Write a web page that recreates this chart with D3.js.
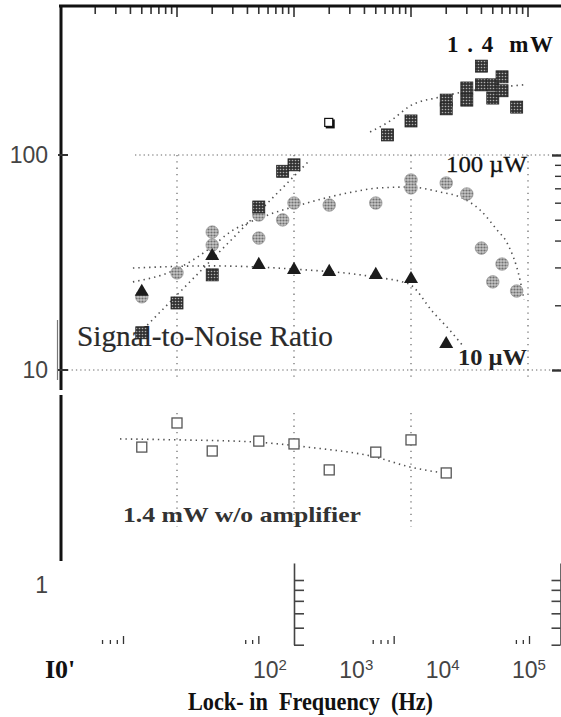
<!DOCTYPE html>
<html>
<head>
<meta charset="utf-8">
<script src="https://cdn.jsdelivr.net/npm/d3@7/dist/d3.min.js"></script>
<style>
  body { margin: 0; background: #fff; }
  svg { display: block; }
</style>
</head>
<body>
<div id="chart"></div>
<script>
// values: lock-in frequency (Hz) vs signal-to-noise ratio
var mw14Freq = [50, 100, 200, 500, 800, 1000, 6300, 10000, 20000, 20000, 30000, 30000, 40000, 40000, 50000, 50000, 60000, 60000, 80000];
var mw14Snr  = [14.9, 20.5, 27.7, 57.3, 84, 90, 124, 144, 180, 164, 205, 180, 259, 212, 212, 184, 231, 199, 167];

var uw100Freq = [50, 100, 200, 200, 500, 500, 800, 1000, 2000, 5000, 10000, 10000, 20000, 30000, 40000, 60000, 50000, 80000];
var uw100Snr  = [21.9, 28.3, 43.8, 38.1, 52.6, 41.1, 49.9, 59.8, 58.5, 59.8, 76.5, 70.3, 74.1, 65.9, 36.9, 31.1, 25.7, 23.3];

var uw10Freq = [50, 200, 500, 1000, 2000, 5000, 10000, 20000];
var uw10Snr  = [23.1, 33.9, 30.8, 29.2, 28.6, 27.7, 26.5, 13.2];

var noAmpFreq = [50, 100, 200, 500, 1000, 2000, 5000, 10000, 20000];
var noAmpSnr  = [4.38, 5.67, 4.20, 4.67, 4.53, 3.43, 4.15, 4.73, 3.32];

// the lone hollow square
var oddFreq = [2000];
var oddSnr = [141];

// dotted guide curves [freq, snr]
var mw14FitA = [[48, 14.9], [1370, 94.8]];
var mw14FitB = [[4470, 128], [6890, 146], [9790, 169], [17700, 186], [31900, 199], [57700, 207], [92500, 212]];
var uw100Fit = [[42, 25.7], [96, 29.2], [192, 36.9], [284, 43.8], [512, 50.9], [1290, 59.8], [2840, 66.5], [5430, 70.3],
                [9790, 71], [17700, 67.3], [26200, 63.8], [38900, 55.5], [54400, 44.8], [66200, 39], [85500, 26.2], [92500, 21.2]];
var uw10Fit = [[42, 29.8], [192, 30.5], [962, 29.5], [4830, 27.1], [9620, 25.1], [15400, 18.6], [21500, 15.3], [27300, 13.1]];
var noAmpFit = [[32.6, 4.78], [106, 4.73], [447, 4.63], [1290, 4.38], [4920, 3.94], [9790, 3.54], [18800, 3.32]];

// axis ticks
var decades = [100, 1000, 10000, 100000];
var topMinor = [20, 30, 40, 50, 60, 70, 80, 90, 200, 300, 400, 500, 600, 700, 800, 900,
                2000, 3000, 4000, 5000, 6000, 7000, 8000, 9000, 20000, 30000, 40000, 50000, 60000, 70000, 80000, 90000];
var yLabels = [1, 10, 100];
var rightTicks = [10, 20, 30, 40, 50, 60, 70, 80, 90, 100];
var fragTicks = [0.5, 0.6, 0.7, 0.8, 0.9, 1];
var bottomMinor = [70, 80, 90, 800, 900, 7000, 8000, 9000, 80000, 90000];
var bottomLabels = [2, 3, 4, 5];

var W = 561, H = 717;
var serif = '"Liberation Serif", "DejaVu Serif", serif';
var sans = '"Liberation Sans", Arial, sans-serif';

var svg = d3.select('#chart').append('svg').attr('width', W).attr('height', H);

var x = d3.scaleLog().domain([10, 1e5]).range([60, 528]);
var y = d3.scaleLog().domain([1, 100]).range([585, 155]);

// patterns for the halftone markers
var defs = svg.append('defs');
var pd = defs.append('pattern').attr('id', 'darkDots').attr('patternUnits', 'userSpaceOnUse')
  .attr('width', 3).attr('height', 3);
pd.append('rect').attr('width', 3).attr('height', 3).attr('fill', '#333');
pd.append('circle').attr('cx', 1.5).attr('cy', 1.5).attr('r', 0.8).attr('fill', '#b0b0b0');
var pg = defs.append('pattern').attr('id', 'greyDots').attr('patternUnits', 'userSpaceOnUse')
  .attr('width', 3).attr('height', 3);
pg.append('rect').attr('width', 3).attr('height', 3).attr('fill', '#c4c4c4');
pg.append('circle').attr('cx', 1.5).attr('cy', 1.5).attr('r', 1.1).attr('fill', '#707070');

// ---- grid ----
var grid = svg.append('g').attr('stroke', '#666').attr('stroke-width', 1.2).attr('fill', 'none');
grid.append('line').attr('x1', 135).attr('x2', W).attr('y1', y(100)).attr('y2', y(100)).attr('stroke-dasharray', '1.3 3');
grid.append('line').attr('x1', 63).attr('x2', W).attr('y1', y(10)).attr('y2', y(10)).attr('stroke-dasharray', '1.3 3');
grid.selectAll('.vg').data(decades).enter().append('line')
  .attr('x1', d => x(d)).attr('x2', d => x(d))
  .attr('y1', y(100)).attr('y2', 380).attr('stroke-dasharray', '1.3 5');
grid.selectAll('.vg2').data(decades.slice(0, 3)).enter().append('line')
  .attr('x1', d => x(d)).attr('x2', d => x(d))
  .attr('y1', 413).attr('y2', 527).attr('stroke-dasharray', '1.3 5');

// ---- frame / axes ----
// top ticks hanging from the frame
var tickPath = topMinor.map(d => 'M' + x(d) + ',6V14').join('') +
               decades.map(d => 'M' + x(d) + ',6V17').join('');
svg.append('path').attr('d', tickPath).attr('fill', 'none').attr('stroke', '#333').attr('stroke-width', 1.6);
svg.append('path').attr('d', 'M59,6H' + W).attr('stroke', '#111').attr('stroke-width', 3);

// left axis line with a break
svg.append('path').attr('d', 'M61,5V390M61,395V561').attr('stroke', '#111').attr('stroke-width', 3);
svg.append('path').attr('d', 'M57.5,320V380').attr('stroke', '#777').attr('stroke-width', 1.2);
svg.append('path').attr('d', [10, 100].map(d => 'M58,' + y(d) + 'H68').join(''))
  .attr('stroke', '#333').attr('stroke-width', 1.8);

var leftLabels = svg.append('g').attr('transform', 'translate(61,0)')
  .call(d3.axisLeft(y).tickValues(yLabels).tickSize(0).tickPadding(13).tickFormat(d3.format('d')));
leftLabels.select('.domain').remove();
leftLabels.selectAll('text').attr('font-family', sans).attr('font-size', 23).attr('fill', '#444');

// right axis, cut off at the page edge
var rightAxis = svg.append('g').attr('transform', 'translate(' + W + ',0)')
  .call(d3.axisLeft(y).tickValues(rightTicks).tickSize(6).tickFormat(''));
rightAxis.select('.domain').remove();
rightAxis.selectAll('line').attr('stroke', '#333').attr('stroke-width', 1.4);
rightAxis.selectAll('.tick').filter(d => d === 10 || d === 100).select('line')
  .attr('x2', -9).attr('stroke-width', 2.4);

// stray axis fragments near the bottom
var yFrag = d3.scaleLog().domain([0.5, 1.2]).range([y(0.5) - 5, y(1.2) - 5]);
var frag1 = svg.append('g').attr('transform', 'translate(294,0)')
  .call(d3.axisRight(yFrag).tickValues(fragTicks).tickSize(10).tickSizeOuter(0).tickFormat(''));
var frag2 = svg.append('g').attr('transform', 'translate(' + (W - 0.5) + ',0)')
  .call(d3.axisLeft(yFrag).tickValues(fragTicks).tickSize(9).tickSizeOuter(0).tickFormat(''));
[frag1, frag2].forEach(function(g) {
  g.selectAll('line, path').attr('stroke', '#444').attr('stroke-width', 1.6);
});

// little minor tick groups above the bottom labels
var xb = d3.scaleLog().domain([100, 1e5]).range([123, 529]);
var bt = svg.append('g').attr('transform', 'translate(0,644)');
bt.call(d3.axisTop(xb).tickValues(bottomMinor).tickSize(4).tickFormat(''));
bt.append('g').call(d3.axisTop(xb).tickValues(decades).tickSize(8).tickFormat(''));
bt.selectAll('.domain').remove();
bt.selectAll('line').attr('stroke', '#333').attr('stroke-width', 1.3);

// bottom labels
var xl = d3.scaleLog().domain([100, 1e5]).range([253, 512]);
var bl = svg.append('g').attr('font-family', sans).attr('fill', '#444');
bottomLabels.forEach(function(e) {
  var t = bl.append('text').attr('x', xl(Math.pow(10, e))).attr('y', 678).attr('font-size', 23);
  t.append('tspan').text('10');
  t.append('tspan').attr('font-size', 15).attr('dy', -8).text(e);
});
svg.append('text').attr('x', 45).attr('y', 678).attr('font-family', serif).attr('font-weight', 'bold')
  .attr('font-size', 26).attr('fill', '#111').text("I0'");
svg.append('text').attr('x', 188).attr('y', 710).attr('font-family', serif).attr('font-weight', 'bold')
  .attr('font-size', 25).attr('fill', '#111').attr('textLength', 245).attr('lengthAdjust', 'spacingAndGlyphs')
  .style('white-space', 'pre').text('Lock- in  Frequency  (Hz)');

// ---- annotations ----
var ann = svg.append('g').attr('font-family', serif);
ann.append('text').attr('x', 447).attr('y', 52).attr('font-size', 23).attr('font-weight', 'bold')
  .attr('letter-spacing', 1.5).attr('fill', '#111').style('white-space', 'pre').text('1 . 4  mW');
ann.append('text').attr('x', 446).attr('y', 172).attr('font-size', 24).attr('fill', '#111')
  .attr('stroke', '#111').attr('stroke-width', 0.3)
  .attr('textLength', 81).attr('lengthAdjust', 'spacingAndGlyphs').text('100 \u00b5W');
ann.append('text').attr('x', 458).attr('y', 365).attr('font-size', 23).attr('font-weight', 'bold').attr('fill', '#222')
  .attr('textLength', 69).attr('lengthAdjust', 'spacingAndGlyphs').text('10 \u00b5W');
ann.append('text').attr('x', 77).attr('y', 346).attr('font-size', 30).attr('fill', '#2a2a2a')
  .attr('stroke', '#2a2a2a').attr('stroke-width', 0.2)
  .attr('textLength', 256).attr('lengthAdjust', 'spacingAndGlyphs').text('Signal-to-Noise Ratio');
ann.append('text').attr('x', 123).attr('y', 522).attr('font-size', 22).attr('font-weight', 'bold').attr('fill', '#333')
  .attr('textLength', 238).attr('lengthAdjust', 'spacingAndGlyphs').text('1.4 mW w/o amplifier');

// ---- dotted guide curves ----
var guide = d3.line().x(d => x(d[0])).y(d => y(d[1])).curve(d3.curveMonotoneX);
var fits = svg.append('g').attr('fill', 'none').attr('stroke', '#505050')
  .attr('stroke-width', 1.6).attr('stroke-dasharray', '1.4 4');
[mw14FitA, mw14FitB, uw100Fit, uw10Fit, noAmpFit].forEach(function(pts) {
  fits.append('path').attr('d', guide(pts));
});

// ---- markers ----
function zip(a, b) { return a.map((v, i) => [v, b[i]]); }

svg.append('g').selectAll('circle').data(zip(uw100Freq, uw100Snr)).enter().append('circle')
  .attr('cx', d => x(d[0])).attr('cy', d => y(d[1])).attr('r', 6.3)
  .attr('fill', 'url(#greyDots)').attr('stroke', '#8a8a8a').attr('stroke-width', 0.6);

var sq = 12;
svg.append('g').selectAll('rect').data(zip(mw14Freq, mw14Snr)).enter().append('rect')
  .attr('x', d => x(d[0]) - sq / 2).attr('y', d => y(d[1]) - sq / 2).attr('width', sq).attr('height', sq)
  .attr('fill', 'url(#darkDots)').attr('stroke', '#222').attr('stroke-width', 0.8);

svg.append('g').selectAll('path').data(zip(uw10Freq, uw10Snr)).enter().append('path')
  .attr('transform', d => 'translate(' + x(d[0]) + ',' + y(d[1]) + ')')
  .attr('d', d3.symbol().type(d3.symbolTriangle).size(85)).attr('fill', '#1c1c1c');

var sq2 = 10;
svg.append('g').selectAll('rect').data(zip(noAmpFreq, noAmpSnr)).enter().append('rect')
  .attr('x', d => x(d[0]) - sq2 / 2).attr('y', d => y(d[1]) - sq2 / 2).attr('width', sq2).attr('height', sq2)
  .attr('fill', '#fff').attr('stroke', '#555').attr('stroke-width', 1.3);

var odd = svg.append('g').selectAll('g').data(zip(oddFreq, oddSnr)).enter().append('g')
  .attr('transform', d => 'translate(' + x(d[0]) + ',' + y(d[1]) + ')');
odd.append('rect').attr('x', -3.5).attr('y', -3.5).attr('width', 9).attr('height', 9).attr('fill', '#111');
odd.append('rect').attr('x', -4.5).attr('y', -4.5).attr('width', 8).attr('height', 8)
  .attr('fill', '#fff').attr('stroke', '#111').attr('stroke-width', 1.2);
</script>
</body>
</html>
